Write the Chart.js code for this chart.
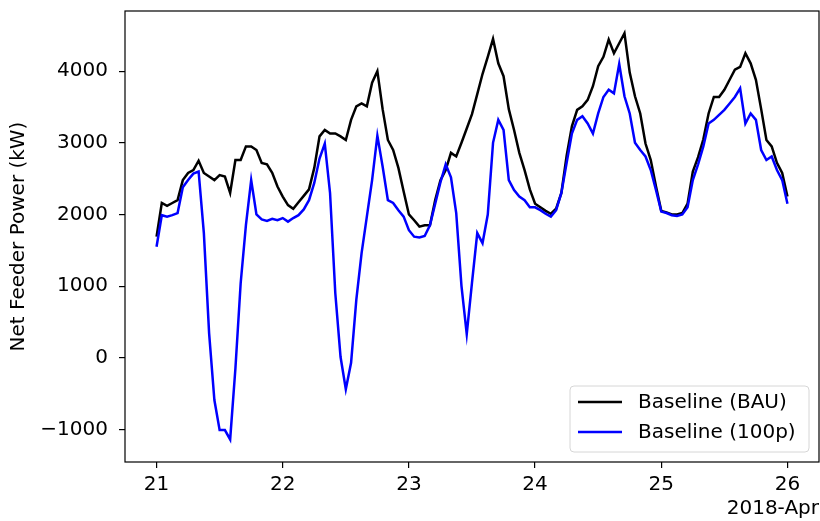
<!DOCTYPE html>
<html>
<head>
<meta charset="utf-8">
<script src="https://cdn.jsdelivr.net/npm/chart.js@4.4.1/dist/chart.umd.min.js"></script>
<style>
html, body { margin: 0; padding: 0; background: #fff; }
</style>
</head>
<body>
<canvas id="grafik" width="820" height="521"></canvas>
<script>
// hourly readings, April 2018, one array per day (hour 0..23)
var bau21 = [1690, 2160, 2120, 2160, 2200, 2480, 2580, 2620, 2750, 2580, 2530, 2480, 2550, 2530, 2300, 2760, 2760, 2950, 2950, 2900, 2720, 2700, 2580, 2390];
var bau22 = [2250, 2130, 2080, 2170, 2260, 2350, 2650, 3090, 3180, 3130, 3130, 3090, 3040, 3320, 3510, 3550, 3510, 3840, 4000, 3470, 3040, 2900, 2650, 2320];
var bau23 = [2000, 1920, 1830, 1850, 1850, 2200, 2480, 2620, 2860, 2810, 3000, 3200, 3400, 3680, 3960, 4200, 4450, 4110, 3930, 3470, 3180, 2860, 2620, 2350];
var bau24 = [2150, 2100, 2050, 2010, 2080, 2300, 2820, 3230, 3460, 3510, 3600, 3790, 4070, 4200, 4440, 4250, 4390, 4530, 3980, 3650, 3410, 2990, 2760, 2390];
var bau25 = [2050, 2030, 2000, 2000, 2020, 2150, 2600, 2800, 3050, 3410, 3640, 3640, 3740, 3880, 4020, 4060, 4250, 4110, 3880, 3470, 3040, 2950, 2720, 2580];
var bauEnd = 2250;

var p100_21 = [1550, 1990, 1970, 1990, 2020, 2380, 2480, 2570, 2600, 1740, 340, -590, -1010, -1010, -1140, -150, 1040, 1850, 2480, 2000, 1930, 1910, 1940, 1920];
var p100_22 = [1950, 1900, 1950, 1990, 2070, 2200, 2440, 2780, 2990, 2300, 900, 10, -440, -70, 810, 1460, 1970, 2480, 3100, 2670, 2200, 2160, 2060, 1970];
var p100_23 = [1780, 1690, 1680, 1700, 1850, 2150, 2450, 2700, 2520, 2020, 1000, 330, 1050, 1740, 1600, 2000, 3000, 3320, 3180, 2480, 2340, 2250, 2200, 2100];
var p100_24 = [2100, 2060, 2010, 1970, 2060, 2300, 2720, 3130, 3320, 3370, 3270, 3130, 3410, 3640, 3740, 3690, 4100, 3650, 3410, 3000, 2900, 2810, 2620, 2340];
var p100_25 = [2040, 2020, 1990, 1980, 2000, 2100, 2480, 2700, 2950, 3270, 3320, 3390, 3460, 3550, 3640, 3760, 3270, 3410, 3320, 2900, 2760, 2810, 2620, 2480];
var p100End = 2150;

var xTicks = [21, 22, 23, 24, 25, 26];
var yTicks = [-1000, 0, 1000, 2000, 3000, 4000];

var firstDay = 21;

function toPoints(days, last) {
    var vals = [].concat.apply([], days).concat([last]);
    return vals.map(function(v, i) {
        return { x: firstDay + i / 24, y: v };
    });
}

var fontName = "'DejaVu Sans', sans-serif";

// kotak bingkai di sekeliling area plot
var framePlugin = {
    id: 'frame',
    afterDatasetsDraw: function(chart) {
        var a = chart.chartArea, c = chart.ctx;
        c.save();
        c.strokeStyle = '#000';
        c.lineWidth = 1.2;
        c.strokeRect(a.left, a.top, a.right - a.left, a.bottom - a.top);
        c.restore();
    }
};

// legenda di pojok kanan bawah
var legendPlugin = {
    id: 'boxLegend',
    afterDraw: function(chart) {
        var c = chart.ctx;
        var x = 570, y = 386, w = 239, h = 66, r = 4;
        c.save();
        c.beginPath();
        c.moveTo(x + r, y);
        c.arcTo(x + w, y, x + w, y + h, r);
        c.arcTo(x + w, y + h, x, y + h, r);
        c.arcTo(x, y + h, x, y, r);
        c.arcTo(x, y, x + w, y, r);
        c.closePath();
        c.fillStyle = 'rgba(255,255,255,0.8)';
        c.fill();
        c.strokeStyle = '#d6d6d6';
        c.lineWidth = 1;
        c.stroke();
        c.font = '20px ' + fontName;
        c.textBaseline = 'middle';
        chart.data.datasets.forEach(function(ds, i) {
            var ly = 402 + i * 30;
            c.strokeStyle = ds.borderColor;
            c.lineWidth = 2.4;
            c.beginPath();
            c.moveTo(578, ly);
            c.lineTo(622, ly);
            c.stroke();
            c.fillStyle = '#000';
            c.fillText(ds.label, 638, ly + 1);
        });
        c.restore();
    }
};

var ctx = document.getElementById('grafik').getContext('2d');
var myChart = new Chart(ctx, {
    type: 'line',
    data: {
        datasets: [{
            label: 'Baseline (BAU)',
            data: toPoints([bau21, bau22, bau23, bau24, bau25], bauEnd),
            borderColor: '#000000',
            borderWidth: 2.5,
            pointRadius: 0,
            tension: 0,
            order: 1
        }, {
            label: 'Baseline (100p)',
            data: toPoints([p100_21, p100_22, p100_23, p100_24, p100_25], p100End),
            borderColor: '#0000ff',
            borderWidth: 2.5,
            pointRadius: 0,
            tension: 0,
            order: 0
        }]
    },
    options: {
        responsive: false,
        animation: false,
        layout: { padding: { top: 11, right: 1, left: 0, bottom: 0 } },
        plugins: {
            legend: { display: false },
            tooltip: { enabled: false }
        },
        scales: {
            x: {
                type: 'linear',
                min: 20.75,
                max: 26.25,
                afterBuildTicks: function(s) { s.ticks = xTicks.map(function(v) { return { value: v }; }); },
                afterFit: function(s) { s.height = 59; s.paddingLeft = 0; s.paddingRight = 0; },
                grid: { drawOnChartArea: false, drawTicks: true, tickLength: 6, color: '#000', lineWidth: 1.2 },
                border: { display: false },
                ticks: {
                    color: '#000',
                    font: { family: fontName, size: 20 },
                    padding: 5,
                    maxRotation: 0,
                    autoSkip: false,
                    callback: function(v) { return String(v); }
                },
                title: {
                    display: true,
                    text: '2018-Apr',
                    align: 'end',
                    color: '#000',
                    font: { family: fontName, size: 20 },
                    padding: { top: 0, bottom: 0 }
                }
            },
            y: {
                min: -1455,
                max: 4840,
                afterBuildTicks: function(s) { s.ticks = yTicks.map(function(v) { return { value: v }; }); },
                afterFit: function(s) { s.width = 125; s.paddingTop = 0; s.paddingBottom = 0; },
                grid: { drawOnChartArea: false, drawTicks: true, tickLength: 6, color: '#000', lineWidth: 1.2 },
                border: { display: false },
                ticks: {
                    color: '#000',
                    font: { family: fontName, size: 20 },
                    padding: 11,
                    autoSkip: false,
                    callback: function(v) { return String(v).replace('-', '\u2212'); }
                },
                title: {
                    display: true,
                    text: 'Net Feeder Power (kW)',
                    color: '#000',
                    font: { family: fontName, size: 20 },
                    padding: { top: 7, bottom: 0 }
                }
            }
        }
    },
    plugins: [framePlugin, legendPlugin]
});
</script>
</body>
</html>
